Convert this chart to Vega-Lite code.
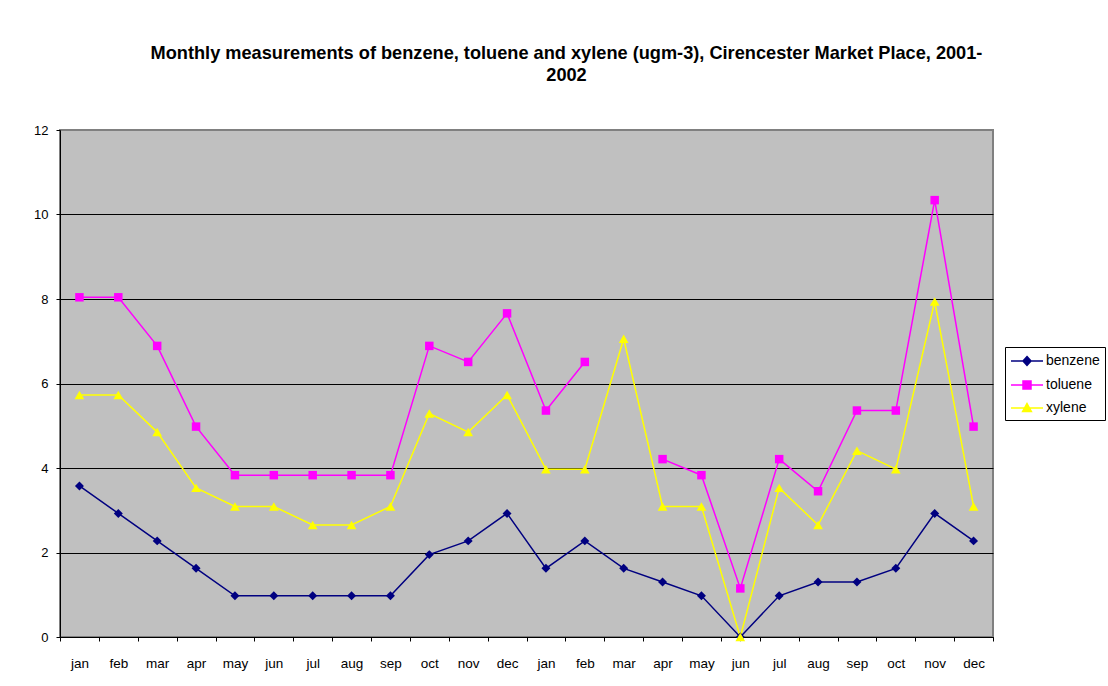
{
  "$schema": "https://vega.github.io/schema/vega-lite/v6.json",
  "width": 933,
  "height": 507,
  "autosize": {"type": "none"},
  "padding": {"left": 60, "top": 130, "right": 115, "bottom": 49},
  "background": "white",
  "title": {
    "text": ["Monthly measurements of benzene, toluene and xylene (ugm-3), Cirencester Market Place, 2001-", "2002"],
    "font": "Liberation Sans",
    "fontSize": 18.2,
    "fontWeight": "bold",
    "color": "black",
    "anchor": "middle",
    "frame": "group",
    "dx": 40,
    "offset": 39,
    "lineHeight": 22
  },
  "config": {
    "font": "Liberation Sans",
    "view": {"fill": "#C0C0C0", "stroke": "#808080", "strokeWidth": 2}
  },
  "data": {
    "values": [
      {"period": "jan 2001", "series": "benzene", "value": 3.575},
      {"period": "feb 2001", "series": "benzene", "value": 2.925},
      {"period": "mar 2001", "series": "benzene", "value": 2.275},
      {"period": "apr 2001", "series": "benzene", "value": 1.625},
      {"period": "may 2001", "series": "benzene", "value": 0.975},
      {"period": "jun 2001", "series": "benzene", "value": 0.975},
      {"period": "jul 2001", "series": "benzene", "value": 0.975},
      {"period": "aug 2001", "series": "benzene", "value": 0.975},
      {"period": "sep 2001", "series": "benzene", "value": 0.975},
      {"period": "oct 2001", "series": "benzene", "value": 1.95},
      {"period": "nov 2001", "series": "benzene", "value": 2.275},
      {"period": "dec 2001", "series": "benzene", "value": 2.925},
      {"period": "jan 2002", "series": "benzene", "value": 1.625},
      {"period": "feb 2002", "series": "benzene", "value": 2.275},
      {"period": "mar 2002", "series": "benzene", "value": 1.625},
      {"period": "apr 2002", "series": "benzene", "value": 1.3},
      {"period": "may 2002", "series": "benzene", "value": 0.975},
      {"period": "jun 2002", "series": "benzene", "value": 0},
      {"period": "jul 2002", "series": "benzene", "value": 0.975},
      {"period": "aug 2002", "series": "benzene", "value": 1.3},
      {"period": "sep 2002", "series": "benzene", "value": 1.3},
      {"period": "oct 2002", "series": "benzene", "value": 1.625},
      {"period": "nov 2002", "series": "benzene", "value": 2.925},
      {"period": "dec 2002", "series": "benzene", "value": 2.275},
      {"period": "jan 2001", "series": "toluene", "value": 8.04},
      {"period": "feb 2001", "series": "toluene", "value": 8.04},
      {"period": "mar 2001", "series": "toluene", "value": 6.89},
      {"period": "apr 2001", "series": "toluene", "value": 4.98},
      {"period": "may 2001", "series": "toluene", "value": 3.83},
      {"period": "jun 2001", "series": "toluene", "value": 3.83},
      {"period": "jul 2001", "series": "toluene", "value": 3.83},
      {"period": "aug 2001", "series": "toluene", "value": 3.83},
      {"period": "sep 2001", "series": "toluene", "value": 3.83},
      {"period": "oct 2001", "series": "toluene", "value": 6.89},
      {"period": "nov 2001", "series": "toluene", "value": 6.51},
      {"period": "dec 2001", "series": "toluene", "value": 7.66},
      {"period": "jan 2002", "series": "toluene", "value": 5.36},
      {"period": "feb 2002", "series": "toluene", "value": 6.51},
      {"period": "mar 2002", "series": "toluene", "value": null},
      {"period": "apr 2002", "series": "toluene", "value": 4.21},
      {"period": "may 2002", "series": "toluene", "value": 3.83},
      {"period": "jun 2002", "series": "toluene", "value": 1.15},
      {"period": "jul 2002", "series": "toluene", "value": 4.21},
      {"period": "aug 2002", "series": "toluene", "value": 3.45},
      {"period": "sep 2002", "series": "toluene", "value": 5.36},
      {"period": "oct 2002", "series": "toluene", "value": 5.36},
      {"period": "nov 2002", "series": "toluene", "value": 10.34},
      {"period": "dec 2002", "series": "toluene", "value": 4.98},
      {"period": "jan 2001", "series": "xylene", "value": 5.73},
      {"period": "feb 2001", "series": "xylene", "value": 5.73},
      {"period": "mar 2001", "series": "xylene", "value": 4.85},
      {"period": "apr 2001", "series": "xylene", "value": 3.53},
      {"period": "may 2001", "series": "xylene", "value": 3.09},
      {"period": "jun 2001", "series": "xylene", "value": 3.09},
      {"period": "jul 2001", "series": "xylene", "value": 2.65},
      {"period": "aug 2001", "series": "xylene", "value": 2.65},
      {"period": "sep 2001", "series": "xylene", "value": 3.09},
      {"period": "oct 2001", "series": "xylene", "value": 5.29},
      {"period": "nov 2001", "series": "xylene", "value": 4.85},
      {"period": "dec 2001", "series": "xylene", "value": 5.73},
      {"period": "jan 2002", "series": "xylene", "value": 3.97},
      {"period": "feb 2002", "series": "xylene", "value": 3.97},
      {"period": "mar 2002", "series": "xylene", "value": 7.06},
      {"period": "apr 2002", "series": "xylene", "value": 3.09},
      {"period": "may 2002", "series": "xylene", "value": 3.09},
      {"period": "jun 2002", "series": "xylene", "value": 0},
      {"period": "jul 2002", "series": "xylene", "value": 3.53},
      {"period": "aug 2002", "series": "xylene", "value": 2.65},
      {"period": "sep 2002", "series": "xylene", "value": 4.41},
      {"period": "oct 2002", "series": "xylene", "value": 3.97},
      {"period": "nov 2002", "series": "xylene", "value": 7.94},
      {"period": "dec 2002", "series": "xylene", "value": 3.09}
    ]
  },
  "encoding": {
    "x": {
      "field": "period",
      "type": "ordinal",
      "sort": null,
      "scale": {"type": "band", "paddingInner": 0, "paddingOuter": 0},
      "axis": {
        "title": null,
        "labelExpr": "split(datum.label, ' ')[0]",
        "labelAngle": 0,
        "labelFont": "Liberation Sans",
        "labelFontSize": 13.5,
        "labelColor": "black",
        "labelPadding": 15,
        "labelOverlap": false,
        "tickBand": "extent",
        "tickSize": 4,
        "tickColor": "black",
        "domainColor": "black",
        "domainWidth": 1,
        "grid": false
      }
    },
    "y": {
      "field": "value",
      "type": "quantitative",
      "scale": {"domain": [0, 12], "nice": false},
      "axis": {
        "title": null,
        "values": [0, 2, 4, 6, 8, 10, 12],
        "labelFont": "Liberation Sans",
        "labelFontSize": 13,
        "labelColor": "black",
        "labelPadding": 8,
        "tickSize": 4,
        "tickColor": "black",
        "domainColor": "black",
        "domainWidth": 1,
        "grid": true,
        "gridColor": {"condition": {"test": "datum.value === 12", "value": "#808080"}, "value": "black"},
        "gridWidth": 1,
        "gridOpacity": 1
      }
    },
    "color": {
      "field": "series",
      "type": "nominal",
      "scale": {"domain": ["benzene", "toluene", "xylene"], "range": ["#000080", "#FF00FF", "#FFFF00"]},
      "legend": {
        "title": null,
        "orient": "none",
        "legendX": 945,
        "legendY": 217,
        "padding": 5,
        "fillColor": "white",
        "strokeColor": "black",
        "symbolSize": 256,
        "symbolStrokeWidth": 1.5,
        "symbolOpacity": 1,
        "labelOffset": 18,
        "rowPadding": 7,
        "labelFont": "Liberation Sans",
        "labelFontSize": 14,
        "labelColor": "black"
      }
    }
  },
  "layer": [
    {
      "mark": {"type": "line", "strokeWidth": 1.5}
    },
    {
      "transform": [{"filter": "datum.series === 'benzene'"}],
      "mark": {"type": "point", "filled": true, "opacity": 1, "size": 80, "shape": "diamond"}
    },
    {
      "transform": [{"filter": "datum.series === 'toluene'"}],
      "mark": {"type": "point", "filled": true, "opacity": 1, "size": 72, "shape": "square"}
    },
    {
      "transform": [{"filter": "datum.series === 'xylene'"}],
      "mark": {"type": "point", "filled": true, "opacity": 1, "size": 95, "shape": "triangle-up"}
    },
    {
      "mark": {"type": "point", "filled": true, "opacity": 0, "size": 256},
      "encoding": {
        "shape": {
          "field": "series",
          "type": "nominal",
          "scale": {
            "domain": ["benzene", "toluene", "xylene"],
            "range": [
              "M-1,0H3M1,-0.55L1.5,0L1,0.55L0.5,0Z",
              "M-1,0H3M0.5,-0.5H1.5V0.5H0.5Z",
              "M-1,0H3M1,-0.55L1.55,0.45L0.45,0.45Z"
            ]
          },
          "legend": {
            "title": null,
            "orient": "none",
            "legendX": 945,
            "legendY": 217,
            "padding": 5,
            "fillColor": "white",
            "strokeColor": "black",
            "symbolSize": 256,
            "symbolStrokeWidth": 1.5,
            "symbolOpacity": 1,
            "labelOffset": 18,
            "rowPadding": 7,
            "labelFont": "Liberation Sans",
            "labelFontSize": 14,
            "labelColor": "black"
          }
        }
      }
    }
  ]
}
